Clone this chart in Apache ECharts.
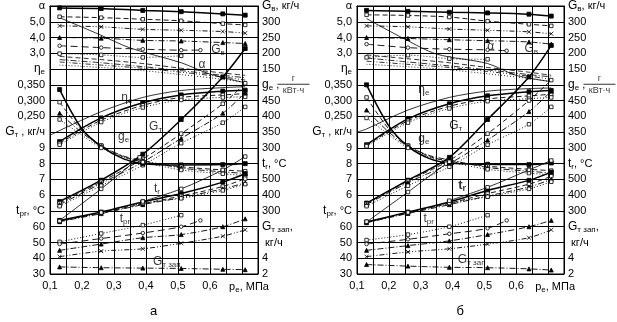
<!DOCTYPE html>
<html>
<head>
<meta charset="utf-8">
<script src="https://cdn.jsdelivr.net/npm/echarts@6/dist/echarts.min.js"></script>
<style>
  html, body { margin: 0; background: #fff; }
  #chart { width: 617px; height: 322px; }
</style>
</head>
<body>
<div id="chart"></div>
<script>
// load points, p_e in МПа
const pe6 = [0.13, 0.26, 0.39, 0.51, 0.64, 0.71]
const pe5 = [0.13, 0.26, 0.39, 0.51, 0.57]
const pe4 = [0.13, 0.26, 0.39, 0.51]
const peGe = [0.13, 0.2, 0.26, 0.33, 0.39, 0.51, 0.64, 0.71]
const peAlpha = [0.13, 0.25, 0.35, 0.51, 0.6, 0.71]
const peEta = [0.1, 0.13, 0.26, 0.39, 0.51, 0.64, 0.71]
const peGt5 = [0.13, 0.26, 0.38]
const peTr5 = [0.39, 0.51, 0.64, 0.71]
const markerX = [0.13, 0.26, 0.38, 0.39, 0.51, 0.57, 0.64, 0.71]

// tick labels, one per grid row (top to bottom)
const leftLabels = ['α', '5,0', '4,0', '3,0', '{i|η}{s|e}', '0,350', '0,300', '0,250',
  '{i|G}{s|т}{t| , кг/ч}', '9', '8', '7', '6', '{i|t}{s|pr}{t|, °C}', '60', '50', '40', '30']
const rightLabels = ['{i|G}{s|в}{t|, кг/ч}', '300', '250', '200', '150', '{i|g}{s|e}{t| ,}',
  '450', '400', '350', '300', '{i|t}{s|r}{t|, °C}', '500', '400', '300',
  '{i|G}{s|т зап}{t|,}', '{t| кг/ч}', '4', '2']

// panel а
const gvA = [[344, 342, 336, 332, 325, 321], [316, 313, 308, 303, 294, 290], [287, 284, 276, 273, 269, 264],
  [250, 248, 241, 239, 234, 231], [224, 218, 213, 210, 210], [199, 195, 187, 192]]
const alphaA = [[5.26, 4.23, 3.34, 2.4, 1.68, 1.13], [2.8, 2.6, 2.35, 2.05, 1.75, 1.6],
  [2.6, 2.4, 2.15, 1.9, 1.6, 1.45], [2.45, 2.25, 2.05, 1.8, 1.5, 1.3], [2.25, 2.1, 1.9, 1.65, 1.35, 1.15]]
const etaA = [[0.19, 0.205, 0.265, 0.31, 0.332, 0.341, 0.344], [0.17, 0.245, 0.293, 0.318, 0.33, 0.333],
  [0.165, 0.238, 0.285, 0.31, 0.318, 0.322], [0.16, 0.232, 0.278, 0.302, 0.31, 0.312]]
const gtA = [[5.6, 6.95, 8.6, 10.8, 13.5, 15.3], [5.5, 6.85, 8.3, 9.9, 11.8, 13.1],
  [5.4, 6.75, 8.1, 9.6, 11.2, 12.5], [5.3, 6.6, 7.9, 9.3, 10.6, 11.6], [4.4, 6.4, 8.4]]
const geA = [[485, 360, 305, 265, 250, 246, 247, 250], [445, 355, 308, 272, 256, 240, 230, 226],
  [410, 348, 305, 274, 260, 236, 224, 219], [390, 340, 300, 270, 255, 230, 218, 212]]
const trA = [[240, 293, 357, 410, 483, 536], [235, 288, 345, 395, 455, 505],
  [232, 283, 340, 385, 440, 478], [236, 290, 350, 380, 430, 470], [360, 440, 560, 645]]
const tprA = [[50.4, 55.7, 61, 67.3], [49, 52.5, 56, 60, 64], [45, 49, 53, 55, 60, 65], [41, 44.5, 46, 49.5, 54, 58]]
const gzA = [[2.9, 2.8, 2.75, 2.7, 2.6, 2.55]]

// panel б
const gvB = [[336, 333, 330, 328, 324, 318], [322, 320, 315, 302, 292, 287], [287, 284, 277, 273, 268, 262],
  [250, 247, 243, 240, 236, 229], [229, 218, 213, 211, 208], [187, 194, 183, 181]]
const alphaB = [[5.2, 3.9, 2.95, 2.35, 1.6, 1.2], [2.9, 2.65, 2.4, 2.1, 1.8, 1.6],
  [2.7, 2.45, 2.2, 1.95, 1.65, 1.5], [2.5, 2.3, 2.1, 1.85, 1.55, 1.35], [2.3, 2.15, 1.95, 1.7, 1.4, 1.2]]
const etaB = [[0.2, 0.21, 0.27, 0.31, 0.33, 0.338, 0.34], [0.16, 0.242, 0.29, 0.315, 0.328, 0.332],
  [0.158, 0.236, 0.282, 0.305, 0.315, 0.32], [0.155, 0.23, 0.275, 0.298, 0.306, 0.31]]
const gtB = [[5.5, 6.95, 8.4, 10.8, 13.5, 15.5], [5.45, 6.9, 8.2, 9.9, 12, 13.3],
  [5.4, 6.8, 8.0, 9.5, 11.3, 12.6], [5.3, 6.6, 7.8, 9.2, 10.5, 11.6], [4.3, 6.2, 8.0]]
const geB = [[500, 370, 305, 265, 252, 248, 247, 252], [460, 360, 308, 272, 258, 242, 232, 228],
  [420, 350, 305, 275, 262, 238, 226, 220], [395, 342, 300, 270, 256, 232, 220, 214]]
const trB = [[230, 293, 357, 430, 494, 546], [228, 288, 348, 410, 470, 520],
  [225, 284, 340, 395, 452, 500], [232, 290, 350, 390, 440, 485], [365, 450, 560, 620]]
const tprB = [[51.5, 55, 60, 67.3], [49, 52, 55.5, 59, 64], [45, 48, 51, 55, 60, 64], [41, 44, 46, 49, 53, 58]]
const gzB = [[3.2, 3.0, 2.85, 2.8, 2.65, 2.5]]

// in-plot captions: text, p_e, grid row
const notesA = [['α', 0.575, 3.73], ['{i|G}{s|в}', 0.625, 2.78], ['{i|η}{s|e}', 0.34, 5.8],
  ['{i|G}{s|т}', 0.43, 7.65], ['{i|g}{s|e}', 0.33, 8.3], ['{i|t}{s|r}', 0.434, 11.6],
  ['{i|t}{s|pr}', 0.334, 13.5], ['{i|G}{s|т зап}', 0.465, 16.2]]
const notesB = [['α', 0.52, 2.6], ['{i|G}{s|в}', 0.647, 2.72], ['{i|η}{s|e}', 0.31, 5.3],
  ['{i|G}{s|т}', 0.41, 7.6], ['{i|g}{s|e}', 0.31, 8.4], ['{b|t}{bs|r}', 0.43, 11.4],
  ['{i|t}{s|pr}', 0.325, 13.5], ['{i|G}{s|т зап}', 0.46, 16.1]]

const axisOrder = ['left', 'right', 'alpha', 'eta', 'gt', 'tpr', 'gv', 'ge', 'tr', 'gz']
// each quantity's scale chosen so its ticks fall on the shared grid rows
const axisRange = { alpha: [-11, 6], eta: [-0.25, 0.6], gt: [1, 18], tpr: [30, 200],
  gv: [-500, 350], ge: [-100, 750], tr: [-100, 1600], gz: [2, 36] }

const cross = 'path://M0,0L8,8M8,0L0,8'
const styles = {
  s0: { dash: 'solid', width: 1.5, symbol: 'rect', fill: '#000', size: 4 },
  s1: { dash: [5, 3], width: 0.9, symbol: 'rect', fill: '#fff', size: 3.5 },
  s2: { dash: [5, 2, 1, 2, 1, 2], width: 0.9, symbol: cross, fill: 'rgba(0,0,0,0)', size: 4 },
  s3: { dash: [6, 2, 1, 2], width: 0.9, symbol: 'triangle', fill: '#000', size: 4 },
  s4: { dash: [7, 4], width: 0.9, symbol: 'circle', fill: '#fff', size: 3.5 },
  s5: { dash: [1, 2], width: 0.9, symbol: 'rect', fill: '#fff', size: 3.5 },
  thin: { dash: 'solid', width: 0.8, symbol: 'none' },
  thinSq: { dash: 'solid', width: 0.8, symbol: 'rect', fill: '#fff', size: 3.5 },
  d1: { dash: [5, 3], width: 0.8, symbol: 'none' },
  d2: { dash: [5, 2, 1, 2, 1, 2], width: 0.8, symbol: 'none' },
  d3: { dash: [6, 2, 1, 2], width: 0.8, symbol: 'none' },
  d5: { dash: [1, 2], width: 0.8, symbol: 'none' },
}

const groups = [
  ['gv', [pe6, pe6, pe6, pe6, pe5, pe4], ['s0', 's1', 's2', 's3', 's4', 's5']],
  ['alpha', [peAlpha, pe6, pe6, pe6, pe6], ['thin', 'd1', 'd3', 'd2', 'd5']],
  ['eta', [peEta, pe6, pe6, pe6], ['thin', 's0', 's1', 's5']],
  ['gt', [pe6, pe6, pe6, pe6, peGt5], ['s0', 's1', 's3', 's5', 'thinSq']],
  ['ge', [peGe, peGe, peGe, peGe], ['s0', 's1', 's3', 's5']],
  ['tr', [pe6, pe6, pe6, pe6, peTr5], ['s0', 's1', 's3', 's5', 'thinSq']],
  ['tpr', [pe4, pe5, pe6, pe6], ['s5', 's4', 's3', 's2']],
  ['gz', [pe6], ['s3']],
]
const panels = [
  { left: 50, width: 208, data: { gv: gvA, alpha: alphaA, eta: etaA, gt: gtA, ge: geA, tr: trA, tpr: tprA, gz: gzA }, notes: notesA, letter: 'а' },
  { left: 357, width: 207, data: { gv: gvB, alpha: alphaB, eta: etaB, gt: gtB, ge: geB, tr: trB, tpr: tprB, gz: gzB }, notes: notesB, letter: 'б' },
]

const font = 'Liberation Sans'
const rich = {
  i: { fontSize: 12, fontFamily: font, color: '#000' },
  s: { fontSize: 8, fontFamily: font, color: '#000', verticalAlign: 'bottom', padding: [6, 0, 0, 0] },
  t: { fontSize: 11, fontFamily: font, color: '#000' },
  b: { fontSize: 13, fontWeight: 'bold', fontFamily: font, color: '#000' },
  bs: { fontSize: 9, fontWeight: 'bold', fontFamily: font, color: '#000', verticalAlign: 'bottom', padding: [6, 0, 0, 0] },
  num: { fontSize: 9, fontFamily: font, width: 32, align: 'center', lineHeight: 9, color: '#000' },
  bar: { width: 32, height: 1, lineHeight: 2, backgroundColor: '#000' },
  den: { fontSize: 9, fontFamily: font, width: 32, align: 'center', lineHeight: 10, color: '#000' },
}
const black = { color: '#000', width: 1 }

const grid = []
const xAxis = []
const yAxis = []
const series = []
const graphic = []

panels.forEach((p, g) => {
  grid.push({ left: p.left, width: p.width, top: 5, height: 269, show: true, borderColor: '#000', borderWidth: 1 })
  xAxis.push({
    type: 'value', gridIndex: g, min: 0.1, max: 0.75, interval: 0.05,
    axisLine: { lineStyle: black }, axisTick: { show: false },
    splitLine: { show: true, lineStyle: black },
    axisLabel: {
      margin: 6, color: '#000', fontFamily: font, fontSize: 11, rich: {
        ...rich, pe: { fontSize: 11, fontFamily: font, color: '#000', padding: [0, 0, 0, 14] },
      },
      formatter: v => {
        const r = Math.round(v * 100)
        if (r % 10 === 0 && r <= 60) return '0,' + r / 10
        if (r === 70) return '{pe|p}{s|e}{t|, МПа}'
        return ''
      },
    },
  })
  axisOrder.forEach(key => {
    if (key === 'left' || key === 'right') {
      const labels = key === 'left' ? leftLabels : rightLabels
      yAxis.push({
        type: 'value', gridIndex: g, position: key, min: 0, max: 17, interval: 1, inverse: true,
        axisLine: { show: true, lineStyle: black }, axisTick: { show: false },
        splitLine: { show: key === 'left', lineStyle: black },
        axisLabel: {
          margin: key === 'left' ? 5 : 4, color: '#000', fontFamily: font, fontSize: 11, rich,
          formatter: v => labels[Math.round(v)] || '',
        },
      })
    } else {
      yAxis.push({ type: 'value', gridIndex: g, show: false, min: axisRange[key][0], max: axisRange[key][1], splitLine: { show: false } })
    }
  })

  groups.forEach(([key, xsList, styleList]) => {
    p.data[key].forEach((ys, k) => {
      const xs = xsList[k]
      const st = styles[styleList[k]]
      series.push({
        type: 'line', xAxisIndex: g, yAxisIndex: g * 10 + axisOrder.indexOf(key),
        smooth: 0.3, silent: true, animation: false,
        lineStyle: { color: '#000', width: st.width, type: st.dash },
        itemStyle: { color: st.fill || '#000', borderColor: '#000', borderWidth: 0.8 },
        symbolSize: st.size || 0,
        data: xs.map((x, i) => ({
          value: [x, ys[i]],
          symbol: st.symbol !== 'none' && markerX.includes(x) ? st.symbol : 'none',
        })),
      })
    })
  })

  series.push({
    type: 'scatter', xAxisIndex: g, yAxisIndex: g * 10, symbolSize: 1, silent: true, animation: false,
    itemStyle: { color: 'rgba(0,0,0,0)' },
    label: { show: true, position: 'inside', color: '#000', fontFamily: font, fontSize: 12, rich },
    data: p.notes.map(([t, x, y]) => ({ value: [x, y], label: { formatter: t } })),
  })
  // fraction г / кВт·ч next to the g_e axis caption
  series.push({
    type: 'scatter', xAxisIndex: g, yAxisIndex: g * 10 + 1, symbolSize: 1, silent: true, animation: false,
    itemStyle: { color: 'rgba(0,0,0,0)' },
    label: { show: true, position: 'right', distance: 19, rich, formatter: '{num|г}\n{bar|}\n{den|кВт·ч}' },
    data: [[0.75, 5]],
  })
  graphic.push({
    type: 'text', left: p.left + p.width / 2 - 4, top: 305,
    style: { text: p.letter, font: '13px "Liberation Sans"', fill: '#000' },
  })
})

const chart = echarts.init(document.getElementById('chart'), null, { renderer: 'canvas' })
chart.setOption({ animation: false, backgroundColor: '#fff', grid, xAxis, yAxis, series, graphic })
</script>
</body>
</html>
